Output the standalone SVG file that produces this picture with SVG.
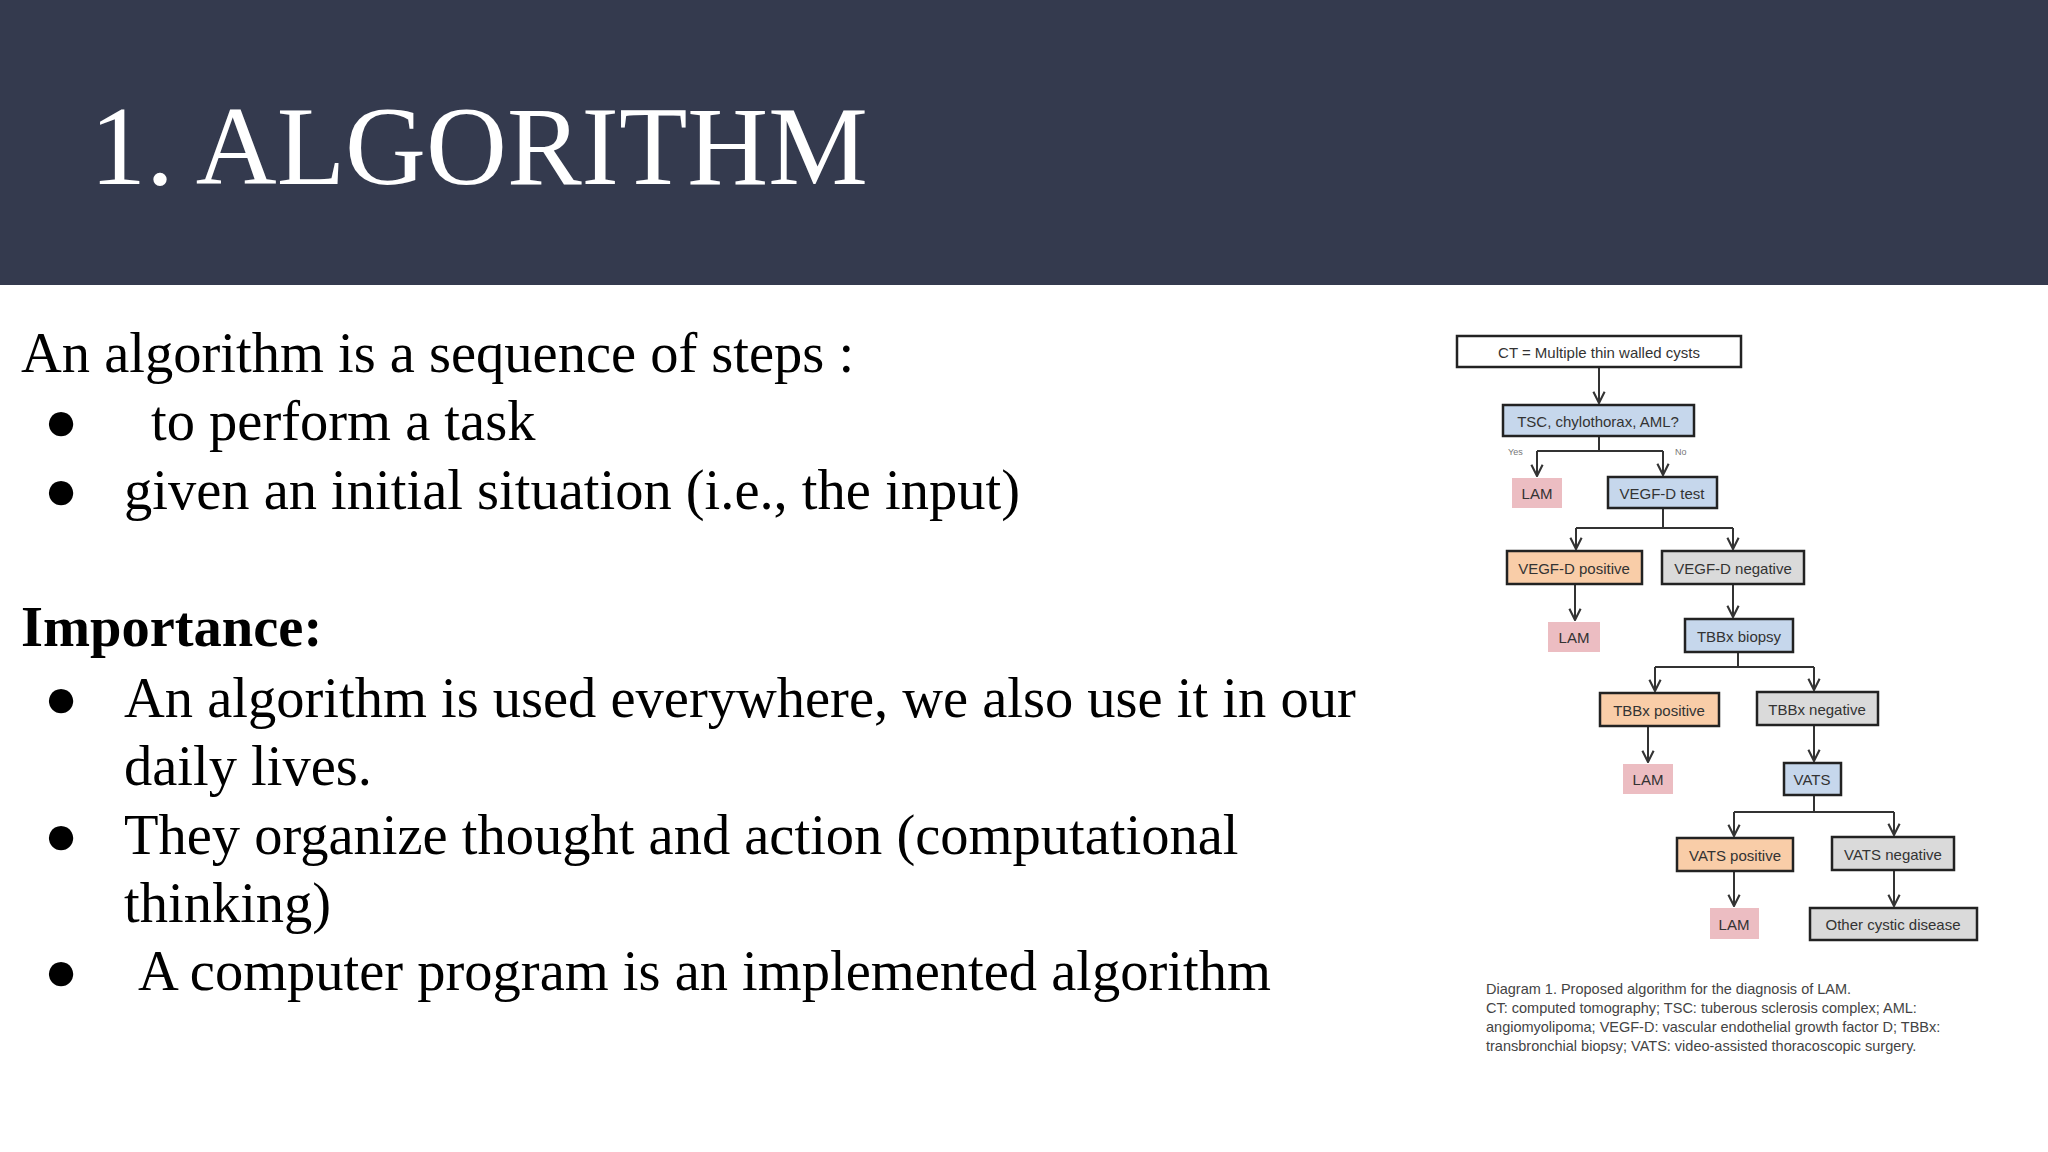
<svg xmlns="http://www.w3.org/2000/svg" width="2048" height="1152" viewBox="0 0 2048 1152">
<defs>
<marker id="ah" viewBox="0 0 10 10" refX="9" refY="5" markerWidth="7" markerHeight="7" orient="auto"><path d="M1,1 L9,5 L1,9" fill="none" stroke="#333" stroke-width="1.5"/></marker>
<style>
.t{font-family:"Liberation Serif",serif;font-size:56.5px;fill:#000}
.n{stroke:#222;stroke-width:2.5}
.nl{font-family:"Liberation Sans",sans-serif;font-size:15px;fill:#333;text-anchor:middle;dominant-baseline:central}
.blue{fill:#c6d7ec}.org{fill:#f9cda8}.gry{fill:#dadada}.pnk{fill:#ecbdc2}
.c{fill:none;stroke:#333;stroke-width:2}
.cap{font-family:"Liberation Sans",sans-serif;font-size:14.5px;fill:#444}
</style>
</defs>
<rect width="2048" height="1152" fill="#fff"/>
<rect width="2048" height="285" fill="#343a4e"/>
<text x="90" y="184" font-family="Liberation Serif,serif" font-size="112" fill="#fff">1. ALGORITHM</text>
<text class="t" x="21" y="372">An algorithm is a sequence of steps :</text>
<text class="t" x="44" y="440">●</text><text class="t" x="151" y="440">to perform a task</text>
<text class="t" x="44" y="509">●</text><text class="t" x="124" y="509">given an initial situation (i.e., the input)</text>
<text class="t" x="21" y="646" font-weight="bold">Importance:</text>
<text class="t" x="44" y="717">●</text><text class="t" x="124" y="717">An algorithm is used everywhere, we also use it in our</text>
<text class="t" x="124" y="785">daily lives.</text>
<text class="t" x="44" y="854">●</text><text class="t" x="124" y="854">They organize thought and action (computational</text>
<text class="t" x="124" y="922">thinking)</text>
<text class="t" x="44" y="990">●</text><text class="t" x="138" y="990">A computer program is an implemented algorithm</text>
<g id="connectors">
<path class="c" d="M1599,367 V403" marker-end="url(#ah)"/>
<path class="c" d="M1599,436 V451 M1537,451 H1663"/>
<path class="c" d="M1537,451 V476" marker-end="url(#ah)"/><path class="c" d="M1663,451 V475" marker-end="url(#ah)"/>
<path class="c" d="M1663,508 V528 M1576,528 H1733"/>
<path class="c" d="M1576,528 V549" marker-end="url(#ah)"/><path class="c" d="M1733,528 V549" marker-end="url(#ah)"/>
<path class="c" d="M1575,584 V620" marker-end="url(#ah)"/>
<path class="c" d="M1733,584 V617" marker-end="url(#ah)"/>
<path class="c" d="M1738,652 V667 M1655,667 H1814"/>
<path class="c" d="M1655,667 V691" marker-end="url(#ah)"/><path class="c" d="M1814,667 V690" marker-end="url(#ah)"/>
<path class="c" d="M1648,726 V762" marker-end="url(#ah)"/>
<path class="c" d="M1814,725 V761" marker-end="url(#ah)"/>
<path class="c" d="M1814,795 V812 M1734,812 H1894"/>
<path class="c" d="M1734,812 V836" marker-end="url(#ah)"/><path class="c" d="M1894,812 V835" marker-end="url(#ah)"/>
<path class="c" d="M1734,871 V906" marker-end="url(#ah)"/>
<path class="c" d="M1894,870 V906" marker-end="url(#ah)"/>
<text x="1508" y="455" font-family="Liberation Sans,sans-serif" font-size="9" fill="#777">Yes</text>
<text x="1675" y="455" font-family="Liberation Sans,sans-serif" font-size="9" fill="#777">No</text>
</g>
<g id="ct"><rect class="n" x="1457" y="336" width="284" height="31" fill="#fff"/><text class="nl" x="1599" y="352">CT = Multiple thin walled cysts</text></g>
<g id="tsc"><rect class="n blue" x="1503" y="405" width="191" height="31"/><text class="nl" x="1598" y="421">TSC, chylothorax, AML?</text></g>
<g id="lam1"><rect class="pnk" x="1512" y="478" width="50" height="30"/><text class="nl" x="1537" y="493">LAM</text></g>
<g id="vegf"><rect class="n blue" x="1608" y="477" width="109" height="31"/><text class="nl" x="1662" y="493">VEGF-D test</text></g>
<g id="vegfpos"><rect class="n org" x="1507" y="551" width="135" height="33"/><text class="nl" x="1574" y="568">VEGF-D positive</text></g>
<g id="vegfneg"><rect class="n gry" x="1662" y="551" width="142" height="33"/><text class="nl" x="1733" y="568">VEGF-D negative</text></g>
<g id="lam2"><rect class="pnk" x="1548" y="622" width="52" height="30"/><text class="nl" x="1574" y="637">LAM</text></g>
<g id="tbbx"><rect class="n blue" x="1685" y="619" width="108" height="33"/><text class="nl" x="1739" y="636">TBBx biopsy</text></g>
<g id="tbbxpos"><rect class="n org" x="1600" y="693" width="119" height="33"/><text class="nl" x="1659" y="710">TBBx positive</text></g>
<g id="tbbxneg"><rect class="n gry" x="1757" y="692" width="121" height="33"/><text class="nl" x="1817" y="709">TBBx negative</text></g>
<g id="lam3"><rect class="pnk" x="1623" y="764" width="50" height="30"/><text class="nl" x="1648" y="779">LAM</text></g>
<g id="vats"><rect class="n blue" x="1784" y="763" width="57" height="32"/><text class="nl" x="1812" y="779">VATS</text></g>
<g id="vatspos"><rect class="n org" x="1677" y="838" width="116" height="33"/><text class="nl" x="1735" y="855">VATS positive</text></g>
<g id="vatsneg"><rect class="n gry" x="1832" y="837" width="122" height="33"/><text class="nl" x="1893" y="854">VATS negative</text></g>
<g id="lam4"><rect class="pnk" x="1710" y="908" width="49" height="31"/><text class="nl" x="1734" y="924">LAM</text></g>
<g id="other"><rect class="n gry" x="1810" y="908" width="167" height="32"/><text class="nl" x="1893" y="924">Other cystic disease</text></g>
<g id="caption">
<text class="cap" x="1486" y="994">Diagram 1. Proposed algorithm for the diagnosis of LAM.</text>
<text class="cap" x="1486" y="1013">CT: computed tomography; TSC: tuberous sclerosis complex; AML:</text>
<text class="cap" x="1486" y="1032">angiomyolipoma; VEGF-D: vascular endothelial growth factor D; TBBx:</text>
<text class="cap" x="1486" y="1051">transbronchial biopsy; VATS: video-assisted thoracoscopic surgery.</text>
</g>
</svg>
